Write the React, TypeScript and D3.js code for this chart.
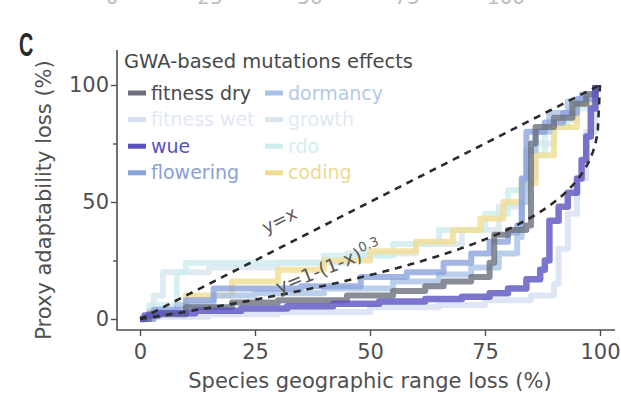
import { useEffect, useRef } from "react"
import * as d3 from "d3"

// trait names, in legend order (two columns, four rows)
const traits = ["fitness dry", "dormancy", "fitness wet", "growth", "wue", "rdo", "flowering", "coding"]
const traitColors = ["#6b707c", "#a9c3e6", "#d6def2", "#d8e6ee", "#5a52c2", "#cdedf0", "#8ba3dc", "#f1dd92"]
const labelColors = ["#4a4a4a", "#b3c9e6", "#e2e8f5", "#e0eaf0", "#5a52c2", "#d3eef0", "#8aa0d6", "#eed995"]

// step curves: [species range loss %, proxy adaptability loss %]
const fitnessDry = [[0, 0], [2, 2], [10, 5], [20, 7], [30, 8], [45, 10], [55, 12], [62, 14], [66, 16], [72, 18], [76, 24], [77, 36], [80, 38], [84, 40], [85, 75], [86, 82], [90, 86], [94, 92], [97, 96], [99, 100]]
const dormancy = [[0, 0], [2, 3], [8, 6], [16, 10], [25, 11], [40, 13], [55, 16], [65, 19], [72, 22], [78, 28], [82, 35], [83, 50], [84, 72], [86, 80], [89, 88], [93, 93], [96, 96], [99, 100]]
const fitnessWet = [[0, 0], [3, 1], [15, 2], [30, 3], [50, 5], [65, 6], [75, 8], [85, 10], [90, 15], [91, 30], [93, 45], [95, 60], [97, 80], [99, 100]]
const growth = [[0, 0], [3, 10], [5, 20], [15, 22], [30, 24], [45, 28], [60, 32], [70, 38], [78, 48], [83, 60], [86, 75], [90, 85], [95, 92], [99, 100]]
const wue = [[0, 0], [1, 1.5], [4, 2.5], [12, 3.5], [22, 4.5], [32, 5.5], [42, 6.5], [52, 7.5], [62, 8.5], [70, 9.5], [76, 11], [80, 13], [84, 17], [87, 21], [88, 25], [89, 42], [91, 48], [93, 54], [95, 60], [96, 68], [97, 78], [98, 90], [99, 100]]
const rdo = [[0, 0], [2, 6], [8, 20], [10, 24], [40, 27], [55, 32], [65, 38], [75, 45], [80, 55], [84, 70], [88, 82], [93, 90], [99, 100]]
const flowering = [[0, 0], [3, 4], [10, 8], [16, 13], [35, 14], [48, 18], [58, 20], [66, 24], [72, 28], [76, 33], [80, 37], [82, 40], [83, 60], [84, 80], [88, 84], [92, 88], [95, 94], [99, 100]]
const coding = [[0, 0], [2, 3], [10, 10], [20, 16], [30, 21], [40, 25], [50, 29], [60, 33], [68, 38], [74, 43], [79, 50], [83, 58], [86, 70], [90, 82], [95, 92], [99, 100]]

const seriesByTrait = [fitnessDry, dormancy, fitnessWet, growth, wue, rdo, flowering, coding]
// back to front
const drawOrder = [3, 5, 2, 7, 1, 6, 0, 4]

const xTicks = [0, 25, 50, 75, 100]
const yTicks = [0, 50, 100]
const yMinorTicks = [25, 75]
// tick labels of the panel above, cut by the top edge
const abovePanelTicks = ["0", "25", "50", "75", "100"]
const abovePanelX = [112, 210, 310, 407, 506]

const font = "'DejaVu Sans', Verdana, sans-serif"

export default function App() {
  const svgRef = useRef<SVGSVGElement>(null)

  useEffect(() => {
    if (!svgRef.current) return
    const svg = d3.select(svgRef.current)
    svg.selectAll("*").remove()

    const x = d3.scaleLinear().domain([0, 100]).range([140, 600])
    const y = d3.scaleLinear().domain([0, 100]).range([319, 85])

    svg.append("rect").attr("width", 621).attr("height", 398).attr("fill", "#fff")

    // cut-off labels from the panel above
    svg.append("g")
      .selectAll("text")
      .data(abovePanelTicks)
      .join("text")
      .attr("x", (_, i) => abovePanelX[i])
      .attr("y", 4)
      .attr("text-anchor", "middle")
      .attr("font-family", font)
      .attr("font-size", 20)
      .attr("fill", "#bcbcbc")
      .text(d => d)

    // panel letter
    svg.append("text")
      .attr("transform", "translate(19,56) scale(0.6,1)")
      .attr("font-family", "'Liberation Sans', Arial, sans-serif")
      .attr("font-weight", 700)
      .attr("font-size", 33)
      .attr("fill", "#2a2a2a")
      .text("C")

    // step lines
    const line = d3.line<number[]>()
      .x(d => x(d[0]))
      .y(d => y(d[1]))
      .curve(d3.curveStepAfter)

    const lines = svg.append("g")
    drawOrder.forEach(i => {
      lines.append("path")
        .attr("d", line(seriesByTrait[i]) as string)
        .attr("fill", "none")
        .attr("stroke", traitColors[i])
        .attr("stroke-width", i === 4 ? 6.5 : 6)
        .attr("stroke-opacity", 0.8)
        .attr("stroke-linejoin", "round")
    })

    // reference curves
    const grid = d3.range(0, 1.0001, 0.005)
    const ref = d3.line<number>().x(p => x(p * 100))
    svg.append("path")
      .attr("d", ref.y(p => y(p * 100))(grid) as string)
      .attr("fill", "none").attr("stroke", "#2b2b2b").attr("stroke-width", 2.6)
      .attr("stroke-dasharray", "7,6")
    svg.append("path")
      .attr("d", ref.y(p => y((1 - Math.pow(1 - p, 0.3)) * 100))(grid) as string)
      .attr("fill", "none").attr("stroke", "#2b2b2b").attr("stroke-width", 2.6)
      .attr("stroke-dasharray", "7,6")

    svg.append("text")
      .attr("transform", "translate(266,234) rotate(-27)")
      .attr("font-family", font).attr("font-size", 18).attr("fill", "#5a5a5a")
      .text("y=x")
    const lab = svg.append("text")
      .attr("transform", "translate(279,294) rotate(-22)")
      .attr("font-family", font).attr("font-size", 19).attr("fill", "#5a5a5a")
    lab.append("tspan").text("y=1-(1-x)")
    lab.append("tspan").attr("dy", -8).attr("font-size", 13).text("0.3")

    // axes
    const axisColor = "#4f4f4f"
    svg.append("path")
      .attr("d", "M117,50V330H615")
      .attr("fill", "none").attr("stroke", axisColor).attr("stroke-width", 1.6)

    const yAxis = svg.append("g").attr("transform", "translate(117,0)")
      .call(d3.axisLeft(y).tickValues(yTicks).tickSize(6).tickPadding(2))
    yAxis.select(".domain").remove()
    yAxis.selectAll("line").attr("stroke", axisColor).attr("stroke-width", 1.4)
    yAxis.selectAll("text").attr("font-family", font).attr("font-size", 21).attr("fill", "#4f4f4f")

    const yMinor = svg.append("g").attr("transform", "translate(117,0)")
      .call(d3.axisLeft(y).tickValues(yMinorTicks).tickSize(4).tickFormat(() => ""))
    yMinor.select(".domain").remove()
    yMinor.selectAll("line").attr("stroke", axisColor).attr("stroke-width", 1.4)

    const xAxis = svg.append("g").attr("transform", "translate(0,330)")
      .call(d3.axisBottom(x).tickValues(xTicks).tickSize(6).tickPadding(8))
    xAxis.select(".domain").remove()
    xAxis.selectAll("line").attr("stroke", axisColor).attr("stroke-width", 1.4)
    xAxis.selectAll("text").attr("font-family", font).attr("font-size", 21).attr("fill", "#4f4f4f")

    svg.append("text")
      .attr("x", 370).attr("y", 388)
      .attr("text-anchor", "middle")
      .attr("font-family", font).attr("font-size", 21).attr("fill", "#4f4f4f")
      .text("Species geographic range loss (%)")

    svg.append("text")
      .attr("transform", "translate(51,200) rotate(-90)")
      .attr("text-anchor", "middle")
      .attr("font-family", font).attr("font-size", 21).attr("fill", "#4f4f4f")
      .text("Proxy adaptability loss (%)")

    // legend
    svg.append("text")
      .attr("x", 124).attr("y", 68)
      .attr("font-family", font).attr("font-size", 19.5).attr("fill", "#484848")
      .text("GWA-based mutations effects")

    const legend = svg.append("g")
    traits.forEach((t, i) => {
      const col = i % 2
      const row = Math.floor(i / 2)
      const lx = col === 0 ? 128 : 265
      const ly = 93 + row * 26.6
      legend.append("rect")
        .attr("x", lx).attr("y", ly - 2.5).attr("width", 18).attr("height", 5)
        .attr("fill", traitColors[i])
      legend.append("text")
        .attr("x", lx + 23).attr("y", ly + 6.5)
        .attr("font-family", font).attr("font-size", 19)
        .attr("fill", labelColors[i])
        .text(t)
    })
  }, [])

  return (
    <svg
      ref={svgRef}
      width={621}
      height={398}
      style={{ position: "absolute", left: 0, top: 0, display: "block" }}
    />
  )
}
